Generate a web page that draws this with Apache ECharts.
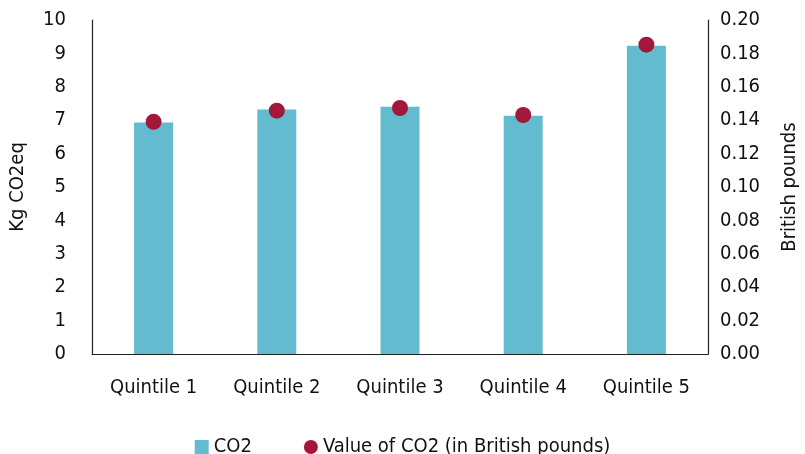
<!DOCTYPE html>
<html><head><meta charset="utf-8">
<script src="https://cdn.jsdelivr.net/npm/echarts@6/dist/echarts.min.js"></script>
<style>html,body{margin:0;padding:0;background:#fff}#c{width:805px;height:454px}</style>
</head><body><div id="c"></div>
<script>
const categories = ['Quintile 1','Quintile 2','Quintile 3','Quintile 4','Quintile 5'];
const co2Values = [6.93, 7.32, 7.40, 7.13, 9.23];
const poundValues = [0.139, 0.1457, 0.1473, 0.1431, 0.1852];
const leftTicks = [0,10,1];
const rightTicks = [0,0.2,0.02];
const FONT = '"DejaVu Sans Condensed", "Liberation Sans Narrow", sans-serif';
const chart = echarts.init(document.getElementById('c'));
chart.setOption({
  animation:false,
  textStyle:{fontFamily:FONT},
  grid:{left:92,right:97,top:20,bottom:100,containLabel:false,outerBoundsMode:'none'},
  legend:{
    top:432,left:'center',itemGap:52,itemWidth:14,itemHeight:14,
    textStyle:{fontSize:20,color:'#111',fontFamily:FONT},
    data:[{name:'CO2',icon:'rect'},{name:'Value of CO2 (in British pounds)',icon:'circle'}]
  },
  xAxis:{type:'category',data:categories,
    axisLine:{lineStyle:{color:'#222',width:1.2}},axisTick:{show:false},
    axisLabel:{fontSize:20,color:'#111',margin:24,fontFamily:FONT}},
  yAxis:[
    {type:'value',min:leftTicks[0],max:leftTicks[1],interval:leftTicks[2],
     name:'Kg CO2eq',nameLocation:'middle',nameGap:64,nameRotate:90,
     nameTextStyle:{fontSize:20,color:'#111',fontFamily:FONT},
     axisLine:{show:true,lineStyle:{color:'#222',width:1.2}},axisTick:{show:false},splitLine:{show:false},
     axisLabel:{fontSize:20,color:'#111',margin:26,fontFamily:FONT}},
    {type:'value',min:rightTicks[0],max:rightTicks[1],interval:rightTicks[2],position:'right',
     name:'British pounds',nameLocation:'middle',nameGap:72,nameRotate:90,
     nameTextStyle:{fontSize:20,color:'#111',fontFamily:FONT},
     axisLine:{show:true,lineStyle:{color:'#222',width:1.2}},axisTick:{show:false},splitLine:{show:false},
     axisLabel:{fontSize:20,color:'#111',margin:12,fontFamily:FONT,formatter:v=>v.toFixed(2)}}
  ],
  series:[
    {name:'CO2',type:'bar',data:co2Values,barWidth:39,itemStyle:{color:'#62BBCE'}},
    {name:'Value of CO2 (in British pounds)',type:'scatter',yAxisIndex:1,data:poundValues,
     symbol:'circle',symbolSize:16,itemStyle:{color:'#A3173A',opacity:1}}
  ]
});
</script></body></html>
